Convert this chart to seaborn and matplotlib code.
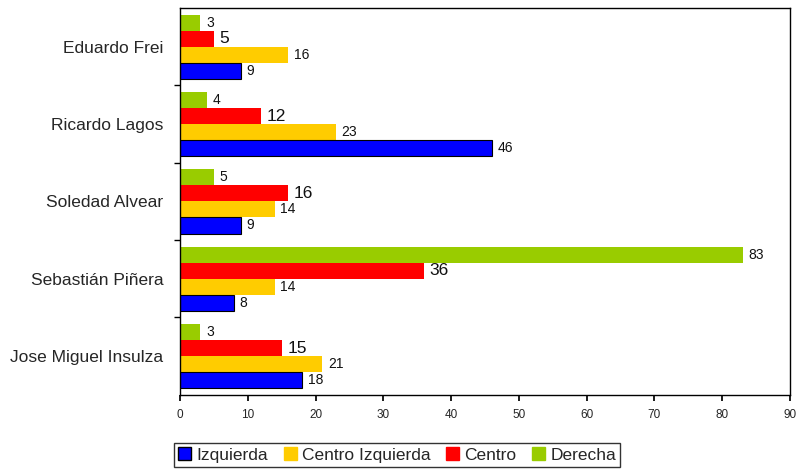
import pandas as pd
import matplotlib.pyplot as plt
import seaborn as sns
from matplotlib.patches import Patch

sns.set_theme(style='white')
plt.rcParams['font.family'] = ['Liberation Sans', 'DejaVu Sans']

CANDIDATES = ['Eduardo Frei', 'Ricardo Lagos', 'Soledad Alvear',
              'Sebastián Piñera', 'Jose Miguel Insulza']
IZQUIERDA = [9, 46, 9, 8, 18]
CENTRO_IZQUIERDA = [16, 23, 14, 14, 21]
CENTRO = [5, 12, 16, 36, 15]
DERECHA = [3, 4, 5, 83, 3]

SERIES = ['Izquierda', 'Centro Izquierda', 'Centro', 'Derecha']
COLORS = {'Izquierda': '#0000FF', 'Centro Izquierda': '#FFCC00',
          'Centro': '#FF0000', 'Derecha': '#99CC00'}

rows = []
for name, vals in zip(SERIES, (IZQUIERDA, CENTRO_IZQUIERDA, CENTRO, DERECHA)):
    for cand, v in zip(CANDIDATES, vals):
        rows.append({'candidate': cand, 'value': v, 'group': name})
df = pd.DataFrame(rows)

fig = plt.figure(figsize=(7.98, 4.70), dpi=100)
ax = fig.add_axes([0.2256, 0.16, 0.7644, 0.823])

hue_order = SERIES[::-1]  # Derecha on top within each group
sns.barplot(data=df, x='value', y='candidate', hue='group', order=CANDIDATES,
            hue_order=hue_order, palette=COLORS, orient='h', width=0.83,
            saturation=1, linewidth=0, ax=ax, legend=False)

for cont, name in zip(ax.containers, hue_order):
    if name == 'Izquierda':
        for bar in cont:
            bar.set_edgecolor('black')
            bar.set_linewidth(0.8)
    size = 12.5 if name == 'Centro' else 10
    ax.bar_label(cont, padding=4, fontsize=size, color='#111111')

ax.set_xlim(0, 90)
ax.set_xticks(range(0, 91, 10))
ax.set_ylim(4.5, -0.5)
ax.set_yticks([i - 0.5 for i in range(1, 5)], minor=True)
ax.tick_params(axis='y', which='major', length=0, labelsize=12.5, pad=12)
ax.tick_params(axis='y', which='minor', length=4, color='black', left=True)
ax.tick_params(axis='x', labelsize=8.5, length=4, color='black', bottom=True, pad=6)
ax.set_xlabel('')
ax.set_ylabel('')
for s in ax.spines.values():
    s.set_color('black')
    s.set_linewidth(1)

handles = [Patch(facecolor=COLORS[s], edgecolor='black' if s == 'Izquierda' else COLORS[s])
           for s in SERIES]
fig.legend(handles, SERIES, loc='lower left', bbox_to_anchor=(0.207, -0.012), ncol=4,
           frameon=True, fancybox=False, edgecolor='black', fontsize=12.5,
           handlelength=0.75, handleheight=0.75, handletextpad=0.3, columnspacing=0.9,
           borderpad=0.25)

fig.savefig('out.png', dpi=100)
